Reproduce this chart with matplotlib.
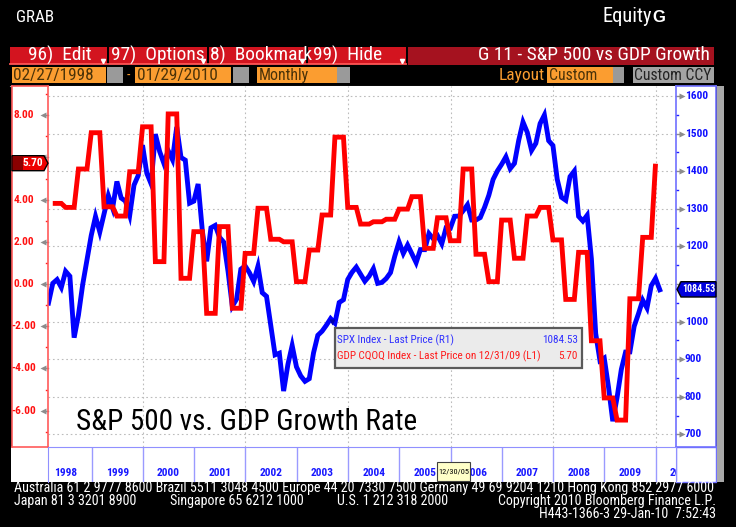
import numpy as np
import matplotlib
matplotlib.use("Agg")
import matplotlib.pyplot as plt
from matplotlib import font_manager
from matplotlib.patches import Rectangle, Polygon
from matplotlib.transforms import Bbox, TransformedBbox

W, H = 736, 527

names = {f.name for f in font_manager.fontManager.ttflist}
NARROW = next((f for f in ["Liberation Sans Narrow", "Roboto Condensed", "Liberation Sans", "DejaVu Sans"]
               if f in names), "DejaVu Sans")
SANS = "Liberation Sans" if "Liberation Sans" in names else "DejaVu Sans"

# S&P 500 month-end closes, Feb 1998 .. Jan 2010
spx = [1049.34, 1101.75, 1111.75, 1090.82, 1133.84, 1120.67, 957.28, 1017.01, 1098.67, 1163.63, 1229.23,
       1279.64, 1238.33, 1286.37, 1335.18, 1301.84, 1372.71, 1328.72, 1320.41, 1282.71, 1362.93, 1388.91, 1469.25,
       1394.46, 1366.42, 1498.58, 1452.43, 1420.60, 1454.60, 1430.83, 1517.68, 1436.51, 1429.40, 1314.95, 1320.28,
       1366.01, 1239.94, 1160.33, 1249.46, 1255.82, 1224.42, 1211.23, 1133.58, 1040.94, 1059.78, 1139.45, 1148.08,
       1130.20, 1106.73, 1147.39, 1076.92, 1067.14, 989.82, 911.62, 916.07, 815.28, 885.76, 936.31, 879.82,
       855.70, 841.15, 848.18, 916.92, 963.59, 974.50, 990.31, 1008.01, 995.97, 1050.71, 1058.20, 1111.92,
       1131.13, 1144.94, 1126.21, 1107.30, 1120.68, 1140.84, 1101.72, 1104.24, 1114.58, 1130.20, 1173.82, 1211.92,
       1181.27, 1203.60, 1180.59, 1156.85, 1191.50, 1191.33, 1234.18, 1220.33, 1228.81, 1207.01, 1249.48, 1248.29,
       1280.08, 1280.66, 1294.83, 1310.61, 1270.09, 1270.20, 1276.66, 1303.82, 1335.85, 1377.94, 1400.63, 1418.30,
       1438.24, 1406.82, 1420.86, 1482.37, 1530.62, 1503.35, 1455.27, 1473.99, 1526.75, 1549.38, 1481.14, 1468.36,
       1378.55, 1330.63, 1322.70, 1385.59, 1400.38, 1280.00, 1267.38, 1282.83, 1166.36, 968.75, 896.24, 903.25,
       825.88, 735.09, 797.87, 872.81, 919.14, 919.32, 987.48, 1020.62, 1057.08, 1036.19, 1095.63, 1115.10,
       1084.53]

# GDP QoQ annualized, 1998Q1 .. 2009Q4
gdp_q = [3.82, 3.63, 5.45, 7.17, 3.66, 3.22, 5.32, 7.45, 1.06, 8.06, 0.27, 2.48,
         -1.39, 2.72, -1.15, 1.45, 3.59, 2.12, 2.00, 0.11, 1.61, 3.27, 6.96, 3.63,
         2.84, 2.95, 3.07, 3.55, 4.14, 1.69, 3.14, 2.05, 5.45, 1.41, 0.11, 3.03,
         1.22, 3.22, 3.63, 2.09, -0.73, 1.50, -2.69, -5.40, -6.45, -0.70, 2.21, 5.70]

years = list(range(1998, 2011))
left_ticks = [8, 6, 4, 2, 0, -2, -4, -6]
right_ticks = list(range(700, 1700, 100))

t = 1998 + (np.arange(len(spx)) + 1.94) / 12
gdp = np.full(len(spx), np.nan)
gdp[1:143] = np.repeat(gdp_q, 3)[:142]

XLIM = (1998.152, 2010.394)
GLIM = (-7.725, 9.384)
SLIM = (666.5, 1626.6)


def frac(x0, y0, x1, y1):
    return [x0 / W, 1 - y1 / H, (x1 - x0) / W, (y1 - y0) / H]


def fit_width(txt, px):
    r = fig.canvas.get_renderer()
    w = txt.get_window_extent(renderer=r).width
    txt.set_fontsize(txt.get_fontsize() * px / w)
    return txt.get_fontsize()


def size_for(ax, s, px, **kw):
    t0 = ax.text(0, 0, s, fontsize=10, **kw)
    fs = fit_width(t0, px)
    t0.remove()
    return fs


fig = plt.figure(figsize=(7.36, 5.27), dpi=100, facecolor="black")

bg = fig.add_axes([0, 0, 1, 1])
bg.set_xlim(0, W)
bg.set_ylim(H, 0)
bg.axis("off")

# header
g1 = bg.text(16, 17, "GRAB", color="white", fontsize=10, family=NARROW, va="center")
fit_width(g1, 38)
e1 = bg.text(603, 17, "Equity", color="white", fontsize=10, family=NARROW, va="center")
fit_width(e1, 49)
bg.text(652, 17.5, "G", color="white", fontsize=12, family=SANS, fontweight="bold", va="center")

# menu bar
segs = [(10, 107, 28, "96)  Edit"), (109, 207, 111, "97)  Options"),
        (209, 306, 210, "8)  Bookmark"), (308, 406, 313, "99)  Hide")]
mfs = size_for(bg, "97)  Options", 93, family=NARROW)
for x0, x1, tx, label in segs:
    bg.add_patch(Rectangle((x0, 47), x1 - x0, 17, fc="#d3141f", ec="none"))
    bg.plot([x0, x1], [64, 64], color="#ff5555", lw=1.3)
    txt = bg.text(tx, 55.5, label, color="white", fontsize=mfs, family=NARROW, va="center")
    txt.set_clip_box(TransformedBbox(Bbox([[x0, 47], [x1 - 1, 64]]), bg.transData))
    bg.plot(x1 - 4, 61, marker="v", ms=3, color="white")
bg.add_patch(Rectangle((408, 47), 306, 18, fc="#a5121f", ec="none"))
bg.text(710, 55.5, "G 11 - S&P 500 vs GDP Growth", color="white", fontsize=mfs,
        family=NARROW, va="center", ha="right")

# option row
ORANGE = "#fb9d30"
for x0, x1, label, fc, tc, wpx in [(12, 106, "02/27/1998", ORANGE, "#4a3208", 80),
                                   (135, 231, "01/29/2010", ORANGE, "#4a3208", 80),
                                   (257, 337, "Monthly", ORANGE, "#4a3208", 50),
                                   (547, 613, "Custom", ORANGE, "#4a3208", 48),
                                   (633, 714, "Custom CCY", "#a3a3a3", "#222222", 77)]:
    bg.add_patch(Rectangle((x0, 67), x1 - x0, 16, fc=fc, ec="none"))
    ot = bg.text(x0 + 1.5, 75.5, label, color=tc, fontsize=10, family=NARROW, va="center")
    fit_width(ot, wpx)
for x0, x1 in [(107, 123), (233, 249), (337, 350), (613, 624)]:
    bg.add_patch(Rectangle((x0, 67), x1 - x0, 16, fc="#9a9a9a", ec="none"))
bg.text(127, 75.5, "-", color=ORANGE, fontsize=10, family=NARROW, va="center")
lt = bg.text(545, 75.5, "Layout", color=ORANGE, fontsize=10, family=NARROW, va="center", ha="right")
fit_width(lt, 46)

# white areas under the side boxes and scroll strip
bg.plot([10, 716], [85.5, 85.5], color="#9a9a9a", lw=0.8)
bg.add_patch(Rectangle((11, 447), 37, 35, fc="white", ec="none"))
bg.add_patch(Rectangle((676, 447), 40, 35, fc="white", ec="#7070ff", lw=1))
bg.add_patch(Rectangle((716.5, 86), 7, 396, fc="#a8a8a8", ec="none"))

# footer
f1 = bg.text(14, 488, "Australia 61 2 9777 8600 Brazil 5511 3048 4500 Europe 44 20 7330 7500 "
             "Germany 49 69 9204 1210 Hong Kong 852 2977 6000",
             color="white", fontsize=9, family=NARROW, va="center")
fs = fit_width(f1, 702)
for x, s in [(14, "Japan 81 3 3201 8900"), (170, "Singapore 65 6212 1000"), (337, "U.S. 1 212 318 2000")]:
    bg.text(x, 501, s, color="white", fontsize=fs, family=NARROW, va="center")
bg.text(716, 501, "Copyright 2010 Bloomberg Finance L.P.", color="white", fontsize=fs,
        family=NARROW, va="center", ha="right")
bg.text(716, 514, "H443-1366-3 29-Jan-10  7:52:43", color="white", fontsize=fs,
        family=NARROW, va="center", ha="right")

# main plot
axs = fig.add_axes(frac(48, 86, 676, 447))
axs.set_facecolor("white")
axs.set_xlim(*XLIM)
axs.set_ylim(*SLIM)
GRID = dict(color="#bcbcbc", lw=0.8, ls=(0, (1.5, 2.5)), zorder=0)
for v in right_ticks:
    axs.axhline(v, **GRID)
for yr in range(2000, 2011, 2):
    axs.axvline(yr, **GRID)
axs.plot(t, spx, color="#0000ff", lw=3.5, solid_joinstyle="miter", zorder=2)

axg = axs.twinx()
axg.set_ylim(*GLIM)
axg.plot(t, gdp, color="#ff0000", lw=3.5, solid_joinstyle="miter", solid_capstyle="butt", zorder=3)
for a in (axs, axg):
    a.set_xticks([])
    a.set_yticks([])
    for sp in a.spines.values():
        sp.set_visible(False)

# left axis box
axl = fig.add_axes(frac(12, 86, 48, 447))
axl.set_xlim(12, 48)
axl.set_ylim(*GLIM)
axl.set_xticks([])
axl.set_yticks([])
for sp in axl.spines.values():
    sp.set_color("#ff5a5a")
    sp.set_linewidth(1.2)
tfs = size_for(axl, "8.00", 20.5, fontweight="bold", family=NARROW)
for v in left_ticks:
    if v != 6:  # hidden behind the last-value tag
        axl.text(23.5, v, f"{v:.2f}", color="#ff1010", fontsize=tfs, fontweight="bold",
                 family=NARROW, ha="center", va="center")
    axl.plot([44.5, 48], [v, v], color="#8c8c8c", lw=1, clip_on=False)
    axl.plot(43, v, marker="<", ms=4.5, color="#8c8c8c", mec="none")
for v in range(-7, 10, 2):
    axl.plot([46, 48], [v, v], color="#ff2020", lw=1)

# right axis box
axr = fig.add_axes(frac(676, 86, 716, 447))
axr.set_xlim(676, 716)
axr.set_ylim(*SLIM)
axr.set_xticks([])
axr.set_yticks([])
for sp in axr.spines.values():
    sp.set_color("#7070ff")
    sp.set_linewidth(1.2)
for v in right_ticks:
    if v != 1100:  # hidden behind the last-value tag
        axr.text(685, v, str(v), color="#1010ff", fontsize=tfs, fontweight="bold",
                 family=NARROW, ha="left", va="center")
    axr.plot([676, 680], [v, v], color="#8c8c8c", lw=1, clip_on=False)
    axr.plot(682, v, marker=">", ms=4.5, color="#8c8c8c", mec="none")
for v in range(750, 1600, 100):
    axr.plot([676, 678.5], [v, v], color="#2020ff", lw=1)

# year band
axb = fig.add_axes(frac(48, 447, 676, 482))
axb.set_xlim(*XLIM)
axb.set_ylim(482, 447)
axb.set_facecolor("white")
axb.set_xticks([])
axb.set_yticks([])
for sp in axb.spines.values():
    sp.set_color("#9090ff")
axb.spines["bottom"].set_visible(False)
for yr in years[1:]:
    axb.axvline(yr, color="#9a9aff", lw=1)
yfs = size_for(axb, "1998", 23, fontweight="bold", family=NARROW)
for yr in years:
    axb.text(yr + 0.5, 473, str(yr), color="#1818ff", fontsize=yfs, fontweight="bold",
             family=NARROW, ha="center", va="center", clip_on=True)

# overlay: legend, tooltip, title, value tags
top = fig.add_axes([0, 0, 1, 1], zorder=10)
top.set_xlim(0, W)
top.set_ylim(H, 0)
top.axis("off")

top.add_patch(Rectangle((335, 328), 247, 40, fc="#ebebeb", ec="#5a5a5a", lw=1.6))
top.plot(332, 321.5, marker="v", ms=4, color="#0000aa", mec="none")
l1 = top.text(337, 340, "SPX Index - Last Price (R1)", color="#3030ff", fontsize=8.5,
              family=NARROW, va="center")
lfs = fit_width(l1, 117)
top.text(578, 340, "1084.53", color="#3030ff", fontsize=lfs, family=NARROW, va="center", ha="right")
top.text(337, 356, "GDP CQOQ Index - Last Price on 12/31/09 (L1)", color="#ff1a1a", fontsize=lfs,
         family=NARROW, va="center")
top.text(578, 356, "5.70", color="#ff1a1a", fontsize=lfs, family=NARROW, va="center", ha="right")

top.add_patch(Rectangle((437, 462), 33, 19, fc="#ffffc8", ec="#404040", lw=0.8))
tt = top.text(453.5, 471.5, "12/30/05", color="black", fontsize=6, family=NARROW,
              ha="center", va="center")
fit_width(tt, 31)

ttl = top.text(76, 430, "S&P 500 vs. GDP Growth Rate", color="black", fontsize=22,
               family=NARROW, va="baseline")
fit_width(ttl, 340)

top.add_patch(Polygon([(12, 155.7), (44, 155.7), (48, 163.2), (44, 170.7), (12, 170.7)],
                      closed=True, fc="#ee0000", ec="black", lw=1))
top.add_patch(Rectangle((12.5, 156.2), 10, 14, fc="#8a0000", ec="none"))
top.text(43, 163.5, "5.70", color="white", fontsize=tfs, fontweight="bold", family=NARROW,
         ha="right", va="center")

top.add_patch(Polygon([(716, 281.7), (681, 281.7), (677, 289.3), (681, 297), (716, 297)],
                      closed=True, fc="#0000dd", ec="black", lw=1))
bt = top.text(698.5, 289.5, "1084.53", color="white", fontsize=tfs, fontweight="bold",
              family=NARROW, ha="center", va="center")
fit_width(bt, 33)

fig.savefig("out.png", dpi=100, facecolor="black")
